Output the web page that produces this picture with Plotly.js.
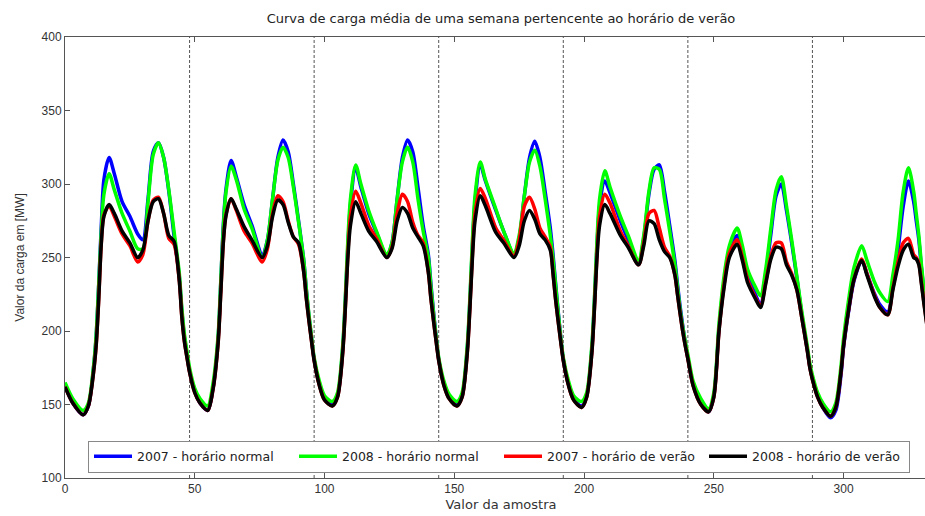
<!DOCTYPE html>
<html>
<head>
<meta charset="utf-8">
<script src="https://cdn.plot.ly/plotly-3.0.1.min.js"></script>
<style>
  html, body { margin: 0; padding: 0; background: #fff; overflow: hidden; width: 925px; height: 516px; }
  #chart { width: 940px; height: 516px; }
</style>
</head>
<body>
<div id="chart"></div>
<script>
// Sample index (half-hour samples over one week)
const sampleX = [
  0,3,7,9,11,12,13,14,15,17,19,22,25,28,30,32,34,36,38,40,42,44,45,46,47,
  48,50,52,55,57,59,60,61,62,64,66,69,72,76,78,80,82,84,86,88,90,92,93,94,95,
  96,98,100,103,105,107,108,109,110,112,114,117,120,124,126,128,130,132,134,136,138,140,141,142,143,
  144,146,148,151,153,155,156,157,158,160,162,166,169,173,175,177,179,181,183,185,187,188,189,190,191,
  192,194,196,199,201,203,204,205,206,208,210,214,217,221,223,225,227,229,231,233,235,236,237,238,239,
  240,242,245,248,250,252,254,256,259,261,263,266,268,270,272,274,276,278,280,282,284,286,287,
  288,290,292,295,297,299,300,302,304,307,309,312,314,317,319,321,323,325,327,328,329,330,331,332
];

// 2007 - horário normal (blue)
const load2007Normal = [
  163,151,143,149,175,196,232,272,303,318,307,288,278,266,262,290,322,328,318,295,265,238,214,196,184,
  173,159,151,146,161,195,232,272,296,316,305,286,272,252,262,290,318,330,322,300,275,248,228,210,195,
  181,164,154,150,156,188,220,258,286,311,298,280,267,251,260,290,318,330,322,298,272,252,232,213,196,
  181,164,155,150,156,188,220,258,288,313,302,282,268,252,263,292,318,329,318,295,270,253,233,214,196,
  181,164,154,149,156,188,220,258,285,302,294,275,262,246,263,293,310,313,295,272,248,232,217,204,192,
  182,164,151,145,156,202,234,255,265,254,238,225,218,238,266,292,300,282,260,236,210,188,176,
  168,156,148,141,146,170,189,214,234,248,239,225,218,213,230,255,285,302,288,275,262,243,226,210
];

// 2008 - horário normal (green)
const load2008Normal = [
  165,154,146,151,176,197,232,268,293,307,296,280,268,256,256,288,320,328,318,296,268,240,216,198,186,
  175,161,154,149,164,197,233,270,294,312,303,283,270,250,262,290,316,325,318,298,274,248,228,211,196,
  182,166,156,152,158,190,222,262,290,313,300,282,268,252,260,290,315,325,315,290,268,250,230,212,196,
  182,166,157,152,158,190,222,262,292,315,303,283,268,253,265,292,315,323,312,290,265,250,232,213,196,
  182,166,156,152,158,190,222,262,290,309,298,278,265,248,265,295,311,310,290,268,245,230,215,203,193,
  184,166,154,147,158,205,238,258,270,258,242,230,224,242,270,296,305,285,262,237,212,190,178,
  170,158,151,145,151,176,195,222,243,258,248,233,226,220,238,262,295,311,295,280,265,245,228,212
];

// 2007 - horário de verão (red)
const load2007Verao = [
  162,151,143,149,172,190,222,260,279,285,278,266,258,247,252,275,289,291,280,263,259,235,210,193,182,
  172,158,151,146,160,192,225,260,279,290,282,268,260,247,256,280,292,288,275,264,259,240,222,207,193,
  180,163,153,149,155,185,215,252,278,295,287,272,263,250,257,280,293,288,274,265,260,240,222,207,193,
  180,163,154,149,155,185,215,252,280,297,290,270,262,251,262,285,291,283,270,264,257,240,222,207,193,
  180,163,153,148,155,185,215,252,278,293,287,268,258,245,260,280,282,270,257,251,238,225,212,200,190,
  181,163,150,145,155,200,232,253,262,250,235,223,217,233,251,260,260,247,239,228,208,187,175,
  167,155,148,142,148,172,190,215,235,249,239,224,216,211,229,247,260,263,252,250,246,233,219,206
];

// 2008 - horário de verão (black)
const load2008Verao = [
  162,151,143,149,172,190,222,260,278,286,280,268,260,250,255,275,288,290,280,265,261,235,210,193,182,
  172,158,151,146,160,192,225,260,278,290,283,271,262,250,258,278,289,286,274,264,260,240,222,207,193,
  180,163,153,149,155,185,215,250,272,288,280,268,261,250,256,275,284,280,270,264,258,240,222,207,193,
  180,163,154,149,155,185,215,250,275,292,285,267,260,250,258,275,282,276,266,262,255,240,222,207,193,
  180,163,153,148,155,185,215,250,272,286,280,265,257,245,258,275,273,262,254,250,238,225,212,200,190,
  181,163,150,145,155,200,230,250,259,248,233,222,216,232,249,257,256,245,238,228,208,187,175,
  167,155,148,142,148,172,190,215,235,248,238,223,216,211,228,244,255,259,250,249,245,232,218,205
];

const seriesNames = ['2007 - horário normal', '2008 - horário normal', '2007 - horário de verão', '2008 - horário de verão'];
const seriesValues = [load2007Normal, load2008Normal, load2007Verao, load2008Verao];
const seriesColors = ['#0000ff', '#00ff00', '#ff0000', '#000000'];

// Day boundaries (48 samples per day)
const dayBoundaries = [48, 96, 144, 192, 240, 288];

const xTicks = [0, 50, 100, 150, 200, 250, 300];
const yTicks = [100, 150, 200, 250, 300, 350, 400];

const traces = seriesValues.map((vals, i) => ({
  type: 'scatter',
  mode: 'lines',
  x: sampleX,
  y: vals,
  name: seriesNames[i],
  line: { color: seriesColors[i], width: 3.5, shape: 'spline', smoothing: 0.8 },
  hoverinfo: 'x+y+name'
}));

const shapes = dayBoundaries.map(b => ({
  type: 'line', xref: 'x', yref: 'paper', x0: b, x1: b, y0: 0, y1: 1,
  layer: 'below',
  line: { color: '#555', width: 1, dash: '3px,2px' }
}));

const fontFam = '"Liberation Sans", Arial, Helvetica, sans-serif';
const wideFam = '"DejaVu Sans", "Liberation Sans", Arial, sans-serif';

const layout = {
  width: 940, height: 516,
  margin: { l: 65, r: 3, t: 37, b: 38, pad: 0 },
  paper_bgcolor: '#fff', plot_bgcolor: '#fff',
  font: { family: fontFam, size: 12, color: '#333' },
  title: {
    text: 'Curva de carga média de uma semana pertencente ao horário de verão',
    font: { family: wideFam, size: 13, color: '#222' },
    x: 0.5, xref: 'paper', xanchor: 'center', y: 1 - 18/516, yanchor: 'middle'
  },
  xaxis: {
    range: [0, 336],
    tickvals: xTicks, ticktext: xTicks.map(String),
    ticks: 'inside', ticklen: 5, tickcolor: '#555', tickwidth: 1,
    showline: true, linecolor: '#555', linewidth: 1, mirror: 'ticks',
    showgrid: false, zeroline: false,
    tickfont: { family: fontFam, size: 12, color: '#333' },
    title: { text: 'Valor da amostra', font: { family: wideFam, size: 13, color: '#333' }, standoff: 4 }
  },
  yaxis: {
    range: [100, 400],
    tickvals: yTicks, ticktext: yTicks.map(String),
    ticks: 'inside', ticklen: 5, tickcolor: '#555', tickwidth: 1,
    showline: true, linecolor: '#555', linewidth: 1, mirror: 'ticks',
    showgrid: false, zeroline: false,
    tickfont: { family: fontFam, size: 12, color: '#333' },
    title: { text: 'Valor da carga em [MW]', font: { family: fontFam, size: 12, color: '#333' }, standoff: 14 }
  },
  shapes: shapes,
  showlegend: true,
  legend: {
    orientation: 'h',
    x: (88 - 65) / 872, xanchor: 'left',
    y: (478.5 - 473) / 441, yanchor: 'bottom',
    bgcolor: '#fff', bordercolor: '#888', borderwidth: 1,
    font: { family: wideFam, size: 12.5, color: '#222' },
    entrywidth: 152, entrywidthmode: 'pixels',
    itemwidth: 38, tracegroupgap: 0
  }
};

Plotly.newPlot('chart', traces, layout, { displayModeBar: false, responsive: false, staticPlot: true });
</script>
</body>
</html>
